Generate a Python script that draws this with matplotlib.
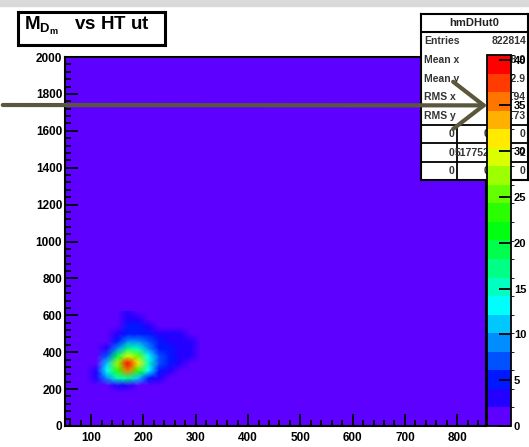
import colorsys
import numpy as np
import matplotlib
matplotlib.use("Agg")
import matplotlib.pyplot as plt
from matplotlib.colors import ListedColormap, BoundaryNorm
from matplotlib.patches import Rectangle

plt.rcParams['font.family'] = 'Liberation Sans'
plt.rcParams['mathtext.fontset'] = 'custom'
plt.rcParams['mathtext.bf'] = 'Liberation Sans:bold'
plt.rcParams['mathtext.rm'] = 'Liberation Sans'

# histogram bins that hold entries (every other bin is empty)
x_edges = np.arange(80, 341, 20)
y_edges = np.arange(160, 641, 40)
# counts, rows from the bottom (160-200) to the top (600-640)
counts = np.array([
    [0, 0, 0, 0, 0, 0, 0, 0, 0, 0, 0, 0, 0],
    [0, 0, 2, 4, 4, 2, 1, 0, 0, 0, 0, 0, 0],
    [0, 3, 10, 16, 18, 12, 6, 3, 1, 0, 0, 0, 0],
    [0, 4, 14, 24, 36, 24, 13, 6, 3, 2, 0, 0, 0],
    [0, 2, 12, 27, 40, 32, 16, 8, 5, 3, 2, 1, 0],
    [0, 1, 7, 19, 30, 26, 14, 8, 5, 4, 3, 2, 0],
    [0, 0, 3, 10, 17, 16, 10, 6, 5, 4, 3, 2, 1],
    [0, 0, 1, 5, 9, 10, 7, 5, 4, 3, 3, 2, 0],
    [0, 0, 0, 3, 6, 6, 5, 4, 3, 3, 2, 1, 0],
    [0, 0, 0, 1, 5, 5, 3, 2, 2, 1, 0, 0, 0],
    [0, 0, 0, 0, 4, 4, 1, 0, 0, 0, 0, 0, 0],
    [0, 0, 0, 0, 3, 1, 0, 0, 0, 0, 0, 0, 0],
])

x_range = (50, 855)
y_range = (0, 2000)
z_max = 40.5
n_levels = 20

title_text = r"$\mathbf{M_{D_{m}}}$   vs HT ut"
stats_name = "hmDHut0"
stats_rows = [("Entries", "822814"), ("Mean x", "178.9"), ("Mean y", "352.9"),
              ("RMS x", "56.94"), ("RMS y", "91.73")]
overflow = [["0", "0", "0"], ["0", "517752", "2"], ["0", "0", "0"]]
arrow_level = 35

W, H = 529, 447
def fx(p):
    return p / W
def fy(p):
    return 1 - p / H

# ROOT-like "pretty" palette, violet -> red
hues = np.linspace(262, 0, n_levels)
cmap = ListedColormap([colorsys.hls_to_rgb(h / 360, 0.5, 1.0) for h in hues])
levels = np.linspace(0, z_max, n_levels + 1)
norm = BoundaryNorm(levels, cmap.N)

fig = plt.figure(figsize=(W / 100, H / 100), dpi=100)
fig.patches.append(Rectangle((0, fy(6)), 1, 6 / H, transform=fig.transFigure,
                             color='#d9d9d9', zorder=0))

ax = fig.add_axes([fx(65), fy(426), fx(486) - fx(65), fy(57) - fy(426)])
ax.set_facecolor(cmap(norm(0)))
x_mid = (x_edges[:-1] + x_edges[1:]) / 2
y_mid = (y_edges[:-1] + y_edges[1:]) / 2
mesh = ax.pcolormesh(x_mid, y_mid, counts, cmap=cmap, norm=norm, shading='gouraud')
ax.set_xlim(*x_range)
ax.set_ylim(*y_range)
ax.set_xticks(np.arange(100, 801, 100))
ax.set_xticks(np.arange(60, 855, 20), minor=True)
ax.set_yticks(np.arange(0, 2001, 200))
ax.set_yticks(np.arange(0, 2001, 40), minor=True)
ax.tick_params(which='both', direction='in', top=False, right=False, width=1.3, color='black')
ax.tick_params(which='major', length=9, labelsize=8.5)
ax.tick_params(which='minor', length=4)
ax.tick_params(axis='x', pad=4)
ax.tick_params(axis='y', pad=2)
for lab in ax.get_xticklabels() + ax.get_yticklabels():
    lab.set_fontweight('bold')
for s in ax.spines.values():
    s.set_linewidth(1.5)

# title box
tax = fig.add_axes([fx(18), fy(45), fx(165) - fx(18), fy(12) - fy(45)])
tax.set_xticks([])
tax.set_yticks([])
for s in tax.spines.values():
    s.set_linewidth(2.2)
tax.text(0.04, 0.58, title_text, fontsize=13.5, fontweight='bold', ha='left', va='center',
         transform=tax.transAxes)

# stats box
sax = fig.add_axes([fx(421), fy(180), fx(528) - fx(421), fy(14) - fy(180)])
sax.set_xlim(421, 528)
sax.set_ylim(180, 14)
sax.set_xticks([])
sax.set_yticks([])
for s in sax.spines.values():
    s.set_linewidth(1.5)
sax.axhline(32, color='black', lw=1.5)
sax.text(474, 23, stats_name, fontsize=8, fontweight='bold', ha='center', va='center', color='#222222')
row_y = [41, 60, 79, 97, 116]
for (name, val), yy in zip(stats_rows, row_y):
    sax.text(424, yy, name, fontsize=7.5, fontweight='bold', ha='left', va='center', color='#333333')
    sax.text(526, yy, val, fontsize=7.5, fontweight='bold', ha='right', va='center', color='#333333')
grid_y = [125, 143, 162, 180]
col_x = [421, 457, 492, 528]
for gy in grid_y[:-1]:
    sax.axhline(gy, color='black', lw=1.3)
for cx in col_x[1:-1]:
    sax.plot([cx, cx], [125, 180], color='black', lw=1.3)
for r, row in enumerate(overflow):
    yc = (grid_y[r] + grid_y[r + 1]) / 2
    for c, val in enumerate(row):
        sax.text(col_x[c + 1] - 3, yc, val, fontsize=7.5, fontweight='bold', ha='right', va='center',
                 color='#333333')

# palette axis
cax = fig.add_axes([fx(487), fy(426), fx(511) - fx(487), fy(55) - fy(426)])
cb = fig.colorbar(mesh, cax=cax, ticks=np.arange(0, 41, 5))
cb.outline.set_linewidth(1.3)
cax.tick_params(direction='in', length=9, width=1.3, labelsize=8, pad=2)
for lab in cax.get_yticklabels():
    lab.set_fontweight('bold')

# hand-drawn arrow pointing at the palette
cax.annotate('', xy=(0.12, arrow_level), xycoords=('axes fraction', 'data'),
             xytext=(0, fy(105)), textcoords='figure fraction',
             arrowprops=dict(arrowstyle='->, head_length=1.1, head_width=0.85',
                             mutation_scale=20, color='#5a573c', lw=3),
             annotation_clip=False)

fig.savefig('out.png', dpi=100)
